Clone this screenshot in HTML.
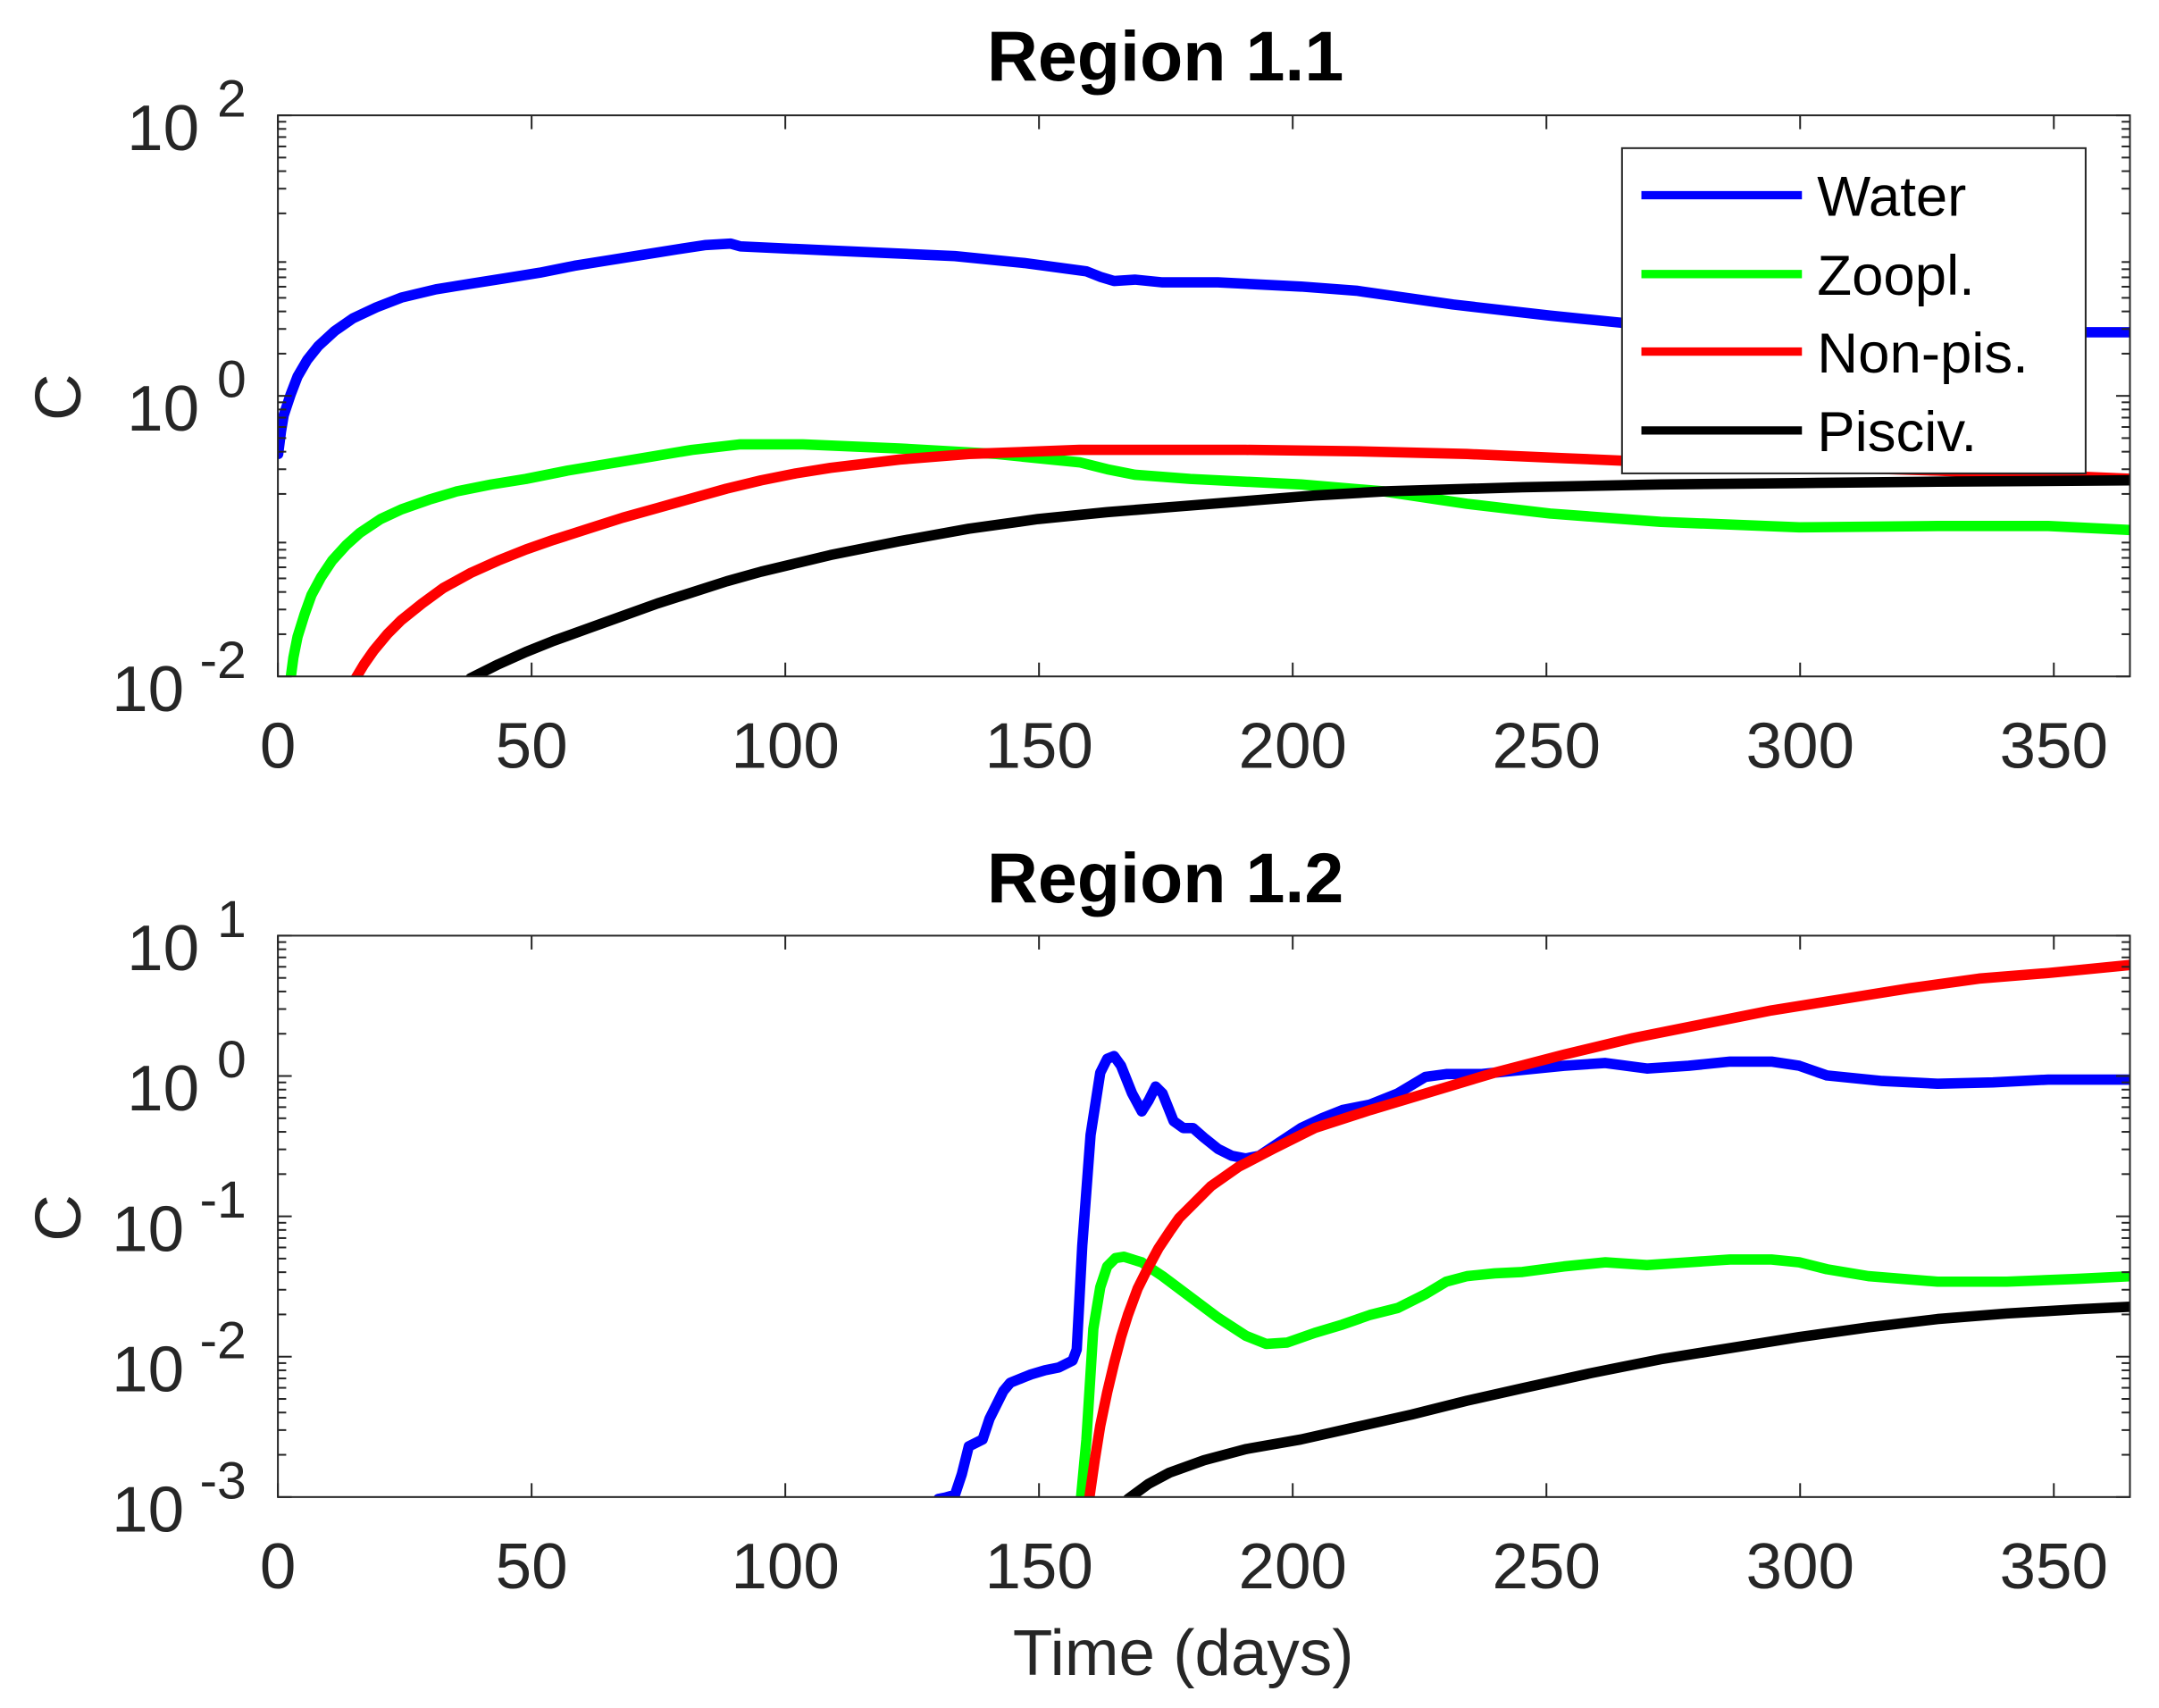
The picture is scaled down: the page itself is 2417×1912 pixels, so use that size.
<!DOCTYPE html>
<html><head><meta charset="utf-8"><style>
html,body{margin:0;padding:0;background:#fff;}
svg{display:block;}
text{font-family:"Liberation Sans",Arial,sans-serif;fill:#262626;}
</style></head><body>
<svg width="2417" height="1912" viewBox="0 0 1560 1234" xmlns="http://www.w3.org/2000/svg">
<defs>
<clipPath id="c1"><rect x="200.8" y="83.3" width="1338.2" height="405.4"/></clipPath>
<clipPath id="c2"><rect x="200.8" y="676" width="1338.2" height="405.6"/></clipPath>
</defs>
<rect width="1560" height="1234" fill="#fff"/>

<g clip-path="url(#c1)" fill="none" stroke-width="7.5" stroke-linejoin="round" stroke-linecap="round">
<polyline stroke="#0000ff" points="201,328 203,312 205,300 210,285 215,272 222,260 230,250 242,239 255,230 272,222 290,215 315,209 340,205 365,201 390,197 415,192 440,188 465,184 490,180 510,177 528,176 535,178 600,181 690,185 740,190 785,196 795,200 805,203 820,202 840,204 880,204 940,207 980,210 1050,220 1120,228 1180,234 1260,238 1350,240 1450,240 1541,240"/>
<polyline stroke="#00ff00" points="210,490 212,475 215,460 220,444 225,430 232,417 240,405 250,394 260,385 275,375 290,368 310,361 330,355 355,350 380,346 410,340 440,335 470,330 500,325 535,321 580,321 650,324 720,328 780,334 800,339 820,343 860,346 940,350 1000,355 1060,364 1120,371 1200,377 1300,381 1400,380 1480,380 1541,383"/>
<polyline stroke="#ff0000" points="257,490 263,480 270,470 280,458 290,448 305,436 320,425 340,414 360,405 380,397 400,390 425,382 450,374 475,367 500,360 525,353 550,347 575,342 600,338 650,332 700,328 780,325 900,325 980,326 1060,328 1130,331 1200,334 1300,337 1400,340 1541,346"/>
<polyline stroke="#000000" points="340,490 360,480 380,471 400,463 425,454 450,445 475,436 500,428 525,420 550,413 575,407 600,401 650,391 700,382 750,375 800,370 850,366 900,362 950,358 1000,355 1100,352 1200,350 1300,349 1400,348 1541,347"/>
</g>
<rect x="200.8" y="83.3" width="1338.2" height="405.4" fill="none" stroke="#262626" stroke-width="1.3"/>

<g clip-path="url(#c2)" fill="none" stroke-width="7.5" stroke-linejoin="round" stroke-linecap="round">
<polyline stroke="#0000ff" points="678,1083 683,1082 690,1080 695,1065 700,1045 710,1040 715,1025 725,1005 730,999 740,995 745,993 755,990 765,988 775,983 778,975 782,900 788,820 795,775 800,765 805,763 810,770 818,790 825,803 830,795 835,785 840,790 848,810 855,815 862,815 870,822 880,830 890,835 900,837 910,835 925,825 940,815 955,808 970,802 990,798 1010,790 1030,778 1045,776 1070,776 1100,773 1130,770 1160,768 1190,772 1220,770 1250,767 1280,767 1300,770 1320,777 1360,781 1400,783 1440,782 1480,780 1541,780"/>
<polyline stroke="#00ff00" points="781,1083 785,1040 790,960 795,930 800,915 806,909 812,908 825,912 840,922 860,937 880,952 900,965 915,971 930,970 950,963 970,957 990,950 1010,945 1030,935 1045,926 1060,922 1080,920 1100,919 1130,915 1160,912 1190,914 1220,912 1250,910 1280,910 1300,912 1320,917 1350,922 1400,926 1450,926 1500,924 1541,922"/>
<polyline stroke="#ff0000" points="787,1083 791,1055 795,1030 800,1006 805,985 810,966 815,950 822,931 830,915 837,902 845,890 852,880 860,872 875,857 895,843 920,830 950,815 990,802 1030,790 1080,775 1130,762 1180,750 1230,740 1280,730 1330,722 1380,714 1430,707 1480,703 1541,697"/>
<polyline stroke="#000000" points="815,1083 830,1072 845,1064 870,1055 900,1047 940,1040 980,1031 1020,1022 1060,1012 1100,1003 1150,992 1200,982 1250,974 1300,966 1350,959 1400,953 1450,949 1500,946 1541,944"/>
</g>
<rect x="200.8" y="676" width="1338.2" height="405.6" fill="none" stroke="#262626" stroke-width="1.3"/>

<g id="ticks" stroke="#262626" stroke-width="1.3"></g>

<rect x="1172" y="107" width="335" height="235" fill="#fff" stroke="#262626" stroke-width="1.3"/>
<g stroke-width="6">
<line x1="1186" y1="141" x2="1302" y2="141" stroke="#0000ff"/>
<line x1="1186" y1="198" x2="1302" y2="198" stroke="#00ff00"/>
<line x1="1186" y1="254" x2="1302" y2="254" stroke="#ff0000"/>
<line x1="1186" y1="311" x2="1302" y2="311" stroke="#000000"/>
</g>
<g font-size="41">
<text x="1313" y="156" style="fill:#000">Water</text>
<text x="1313" y="213" style="fill:#000">Zoopl.</text>
<text x="1313" y="269" style="fill:#000">Non-pis.</text>
<text x="1313" y="326" style="fill:#000">Pisciv.</text>
</g>

<text x="842" y="58" font-size="51" font-weight="bold" text-anchor="middle" style="fill:#000">Region 1.1</text>
<text x="842" y="652" font-size="51" font-weight="bold" text-anchor="middle" style="fill:#000">Region 1.2</text>
<text transform="translate(58,287) rotate(-90)" font-size="47" text-anchor="middle">C</text>
<text transform="translate(58,880) rotate(-90)" font-size="47" text-anchor="middle">C</text>
<text x="855" y="1210" font-size="47" text-anchor="middle">Time (days)</text>

<g id="labels" font-size="47"></g>
</svg>
<script>
(function(){
var ns="http://www.w3.org/2000/svg";
var T=document.getElementById("ticks"),L=document.getElementById("labels");
function ln(x1,y1,x2,y2){var e=document.createElementNS(ns,"line");e.setAttribute("x1",x1);e.setAttribute("y1",y1);e.setAttribute("x2",x2);e.setAttribute("y2",y2);T.appendChild(e);}
function tx(x,y,s,anchor,size){var e=document.createElementNS(ns,"text");e.setAttribute("x",x);e.setAttribute("y",y);e.setAttribute("text-anchor",anchor);if(size)e.setAttribute("font-size",size);e.textContent=s;L.appendChild(e);}
var X0=200.8,X1=1539,sx=(X1-X0)/365;
var panels=[{top:83.3,bot:488.7,emax:2,n:4,step:2},{top:676,bot:1081.6,emax:1,n:4,step:1}];
panels.forEach(function(p){
 var dec=(p.bot-p.top)/p.n;
 for(var d=0;d<=350;d+=50){var x=X0+d*sx;ln(x,p.bot,x,p.bot-10);ln(x,p.top,x,p.top+10);tx(x,p.bot+66,String(d),"middle");}
 for(var k=0;k<p.n;k++){
  var yb=p.bot-k*dec;
  for(var m=2;m<=9;m++){var y=yb-Math.log10(m)*dec;ln(X0,y,X0+6,y);ln(X1,y,X1-6,y);}
 }
 for(var k=0;k<=p.n;k++){
  var y=p.bot-k*dec;
  var e=p.emax-p.n+k;
  if(((e%p.step)+p.step)%p.step!==0){continue;}
  ln(X0,y,X0+10,y);ln(X1,y,X1-10,y);
  var es=String(e);
  tx(178,y+1,es,"end",38);
  tx(es.length>1?133:144,y+25,"10","end");
 }
});
})();
</script>
</body></html>
